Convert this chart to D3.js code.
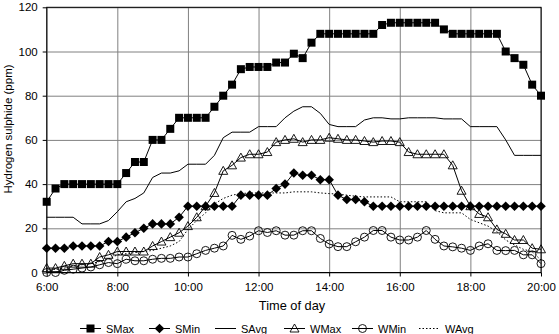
<!DOCTYPE html>
<html>
<head>
<meta charset="utf-8">
<script src="https://cdn.jsdelivr.net/npm/d3@7"></script>
<style>
  body { margin: 0; background: #fff; }
  svg { display: block; font-family: "Liberation Sans", Arial, sans-serif; }
</style>
</head>
<body>
<div id="chart"></div>
<script>
// time of day, every 15 minutes
const times = ["6:00","6:15","6:30","6:45","7:00","7:15","7:30","7:45","8:00","8:15","8:30","8:45",
  "9:00","9:15","9:30","9:45","10:00","10:15","10:30","10:45","11:00","11:15","11:30","11:45",
  "12:00","12:15","12:30","12:45","13:00","13:15","13:30","13:45","14:00","14:15","14:30","14:45",
  "15:00","15:15","15:30","15:45","16:00","16:15","16:30","16:45","17:00","17:15","17:30","17:45",
  "18:00","18:15","18:30","18:45","19:00","19:15","19:30","19:45","20:00"];

const sMax = [32,38,40,40,40,40,40,40,40,45,50,50,60,60,65,70,70,70,70,75,80,85,92,93,93,93,95,95,99,97,104,
  108,108,108,108,108,108,108,112,113,113,113,113,113,113,110,108,108,108,108,108,108,100,97,94,85,80];
const sMin = [11,11,11,12,12,12,12,14,14,16,18,20,22,22,22,25,30,30,30,30,30,30,35,35,35,35,38,40,45,44,44,
  42,42,35,33,33,32,30,30,30,30,30,30,30,30,30,30,30,30,30,30,30,30,30,30,30,30];
const sAvg = [25,25,25,25,22,22,22,23.5,27.5,32,33.5,36,43,45,45,46,49,49,49,53,61,63.5,63.5,63.5,66,66,66,70,73,75,75,
  72,67,66,66,66,69,70,70,69.5,69.5,70,70,70,70,69.5,69.5,69.5,66,66,66,66,60,53,53,53,53];
const wMax = [2,2,3,4,4,4,7,8,9.5,9.5,9.5,9.5,12,14,16,18,21,25,30,36,46,48.5,52,53.5,53.5,54.5,59,60,60.5,59,60,
  60,61,60.5,60,60,59.5,59,59.5,59.5,59,54.5,53.5,53.5,53.5,53.5,48.5,37,30,26.5,25,19.5,17.5,14.7,14.7,11,10.5];
const wMin = [0,0,1,1.5,2,2.5,3.5,4.5,4,6,5.3,5.3,6,6.4,6.4,7,7,8.5,10,11,12,16.8,15,16.5,18.9,18.1,18.9,16.9,16.9,18.9,18.9,
  15.4,12.9,11.7,11.7,13.9,16,19,19,16,14.7,14.7,16,19,15,12,11.6,11,10,12,13,10,9.9,10,8,8,4];
const wAvg = [1,1.5,2,3,3.5,4,5,6,8,8.5,9,9.5,10,11,12,14,19.5,23.5,27,31,33.5,35,35.7,36,36,36,36,36,36.5,36.5,36.5,
  36,35.7,35.5,35,34.5,34.2,34.2,34.2,34.2,32,32,32,32,28,27,27,27,24,22.5,21,18.5,14.7,12.5,10.5,9.4,5.6];

const xTicks = [6,8,10,12,14,16,18,20];
const yTicks = [0,20,40,60,80,100,120];

const series = [
  {name: "SMax", values: sMax, marker: "square", dash: null},
  {name: "SMin", values: sMin, marker: "diamond", dash: null},
  {name: "SAvg", values: sAvg, marker: null, dash: null},
  {name: "WMax", values: wMax, marker: "triangle", dash: null},
  {name: "WMin", values: wMin, marker: "circle", dash: null},
  {name: "WAvg", values: wAvg, marker: null, dash: "1.5,2"}
];

const W = 559, H = 334;
const m = {left: 46.7, right: 541, top: 7.3, bottom: 272.5};

const hours = times.map(t => { const [h, mm] = t.split(":"); return +h + +mm / 60; });

const x = d3.scaleLinear().domain([6, 20]).range([m.left, m.right]);
const y = d3.scaleLinear().domain([0, 120]).range([m.bottom, m.top]);

const svg = d3.select("#chart").append("svg")
  .attr("width", W).attr("height", H);

// gridlines
svg.append("g")
  .attr("transform", `translate(${m.left},0)`)
  .call(d3.axisLeft(y).tickValues(yTicks).tickSize(-(m.right - m.left)).tickFormat(""))
  .call(g => g.select(".domain").remove())
  .selectAll("line").attr("stroke", "#808080");
svg.append("g")
  .attr("transform", `translate(0,${m.bottom})`)
  .call(d3.axisBottom(x).tickValues(xTicks).tickSize(-(m.bottom - m.top)).tickFormat(""))
  .call(g => g.select(".domain").remove())
  .selectAll("line").attr("stroke", "#808080");

// axes with outer ticks and labels
const yAxis = svg.append("g")
  .attr("transform", `translate(${m.left},0)`)
  .call(d3.axisLeft(y).tickValues(yTicks).tickSize(4).tickPadding(5).tickSizeOuter(0));
yAxis.select(".domain").remove();
yAxis.selectAll("line").attr("stroke", "#000");
yAxis.selectAll("text").attr("font-size", 11.5).attr("font-family", "Liberation Sans, Arial").attr("fill", "#000");

const xAxis = svg.append("g")
  .attr("transform", `translate(0,${m.bottom})`)
  .call(d3.axisBottom(x).tickValues(xTicks).tickSize(4).tickPadding(6).tickFormat(d => d + ":00"));
xAxis.select(".domain").remove();
xAxis.selectAll("line").attr("stroke", "#000");
xAxis.selectAll("text").attr("font-size", 11.5).attr("font-family", "Liberation Sans, Arial").attr("fill", "#000");

// plot frame
svg.append("rect")
  .attr("x", m.left).attr("y", m.top)
  .attr("width", m.right - m.left).attr("height", m.bottom - m.top)
  .attr("fill", "none").attr("stroke", "#000");

function drawMarker(g, type, cx, cy) {
  if (type === "square") {
    g.append("rect").attr("x", cx - 4).attr("y", cy - 4).attr("width", 8).attr("height", 8).attr("fill", "#000");
  } else if (type === "diamond") {
    g.append("path").attr("d", `M${cx},${cy - 4.8}L${cx + 4.8},${cy}L${cx},${cy + 4.8}L${cx - 4.8},${cy}Z`).attr("fill", "#000");
  } else if (type === "triangle") {
    g.append("path").attr("d", `M${cx},${cy - 4.5}L${cx + 4.5},${cy + 3.5}L${cx - 4.5},${cy + 3.5}Z`)
      .attr("fill", "none").attr("stroke", "#000").attr("stroke-width", 0.9);
  } else if (type === "circle") {
    g.append("circle").attr("cx", cx).attr("cy", cy).attr("r", 4)
      .attr("fill", "none").attr("stroke", "#000").attr("stroke-width", 0.9);
  }
}

const line = d3.line().x((d, i) => x(hours[i])).y(d => y(d));

// W series first, S series on top
const order = [3, 4, 5, 0, 1, 2];
order.forEach(k => {
  const s = series[k];
  const g = svg.append("g");
  g.append("path")
    .attr("d", line(s.values))
    .attr("fill", "none")
    .attr("stroke", "#000")
    .attr("stroke-width", 1)
    .attr("stroke-dasharray", s.dash);
  if (s.marker) s.values.forEach((v, i) => drawMarker(g, s.marker, x(hours[i]), y(v)));
});

// axis titles
svg.append("text")
  .attr("transform", "translate(12,129) rotate(-90)")
  .attr("text-anchor", "middle")
  .attr("font-size", 11.5)
  .text("Hydrogen sulphide (ppm)");

svg.append("text")
  .attr("x", 292).attr("y", 309.5)
  .attr("text-anchor", "middle")
  .attr("font-size", 12.8)
  .text("Time of day");

// legend
const legendX = [80, 149, 215, 284, 352, 419];
const legY = 328.5;
series.forEach((s, i) => {
  const g = svg.append("g");
  const x0 = legendX[i], x1 = x0 + 21;
  g.append("line")
    .attr("x1", x0).attr("x2", x1).attr("y1", legY).attr("y2", legY)
    .attr("stroke", "#000").attr("stroke-width", 1)
    .attr("stroke-dasharray", s.dash);
  if (s.marker) drawMarker(g, s.marker, (x0 + x1) / 2, legY);
  g.append("text")
    .attr("x", x1 + 5).attr("y", legY + 4)
    .attr("font-size", 11)
    .text(s.name);
});
</script>
</body>
</html>
